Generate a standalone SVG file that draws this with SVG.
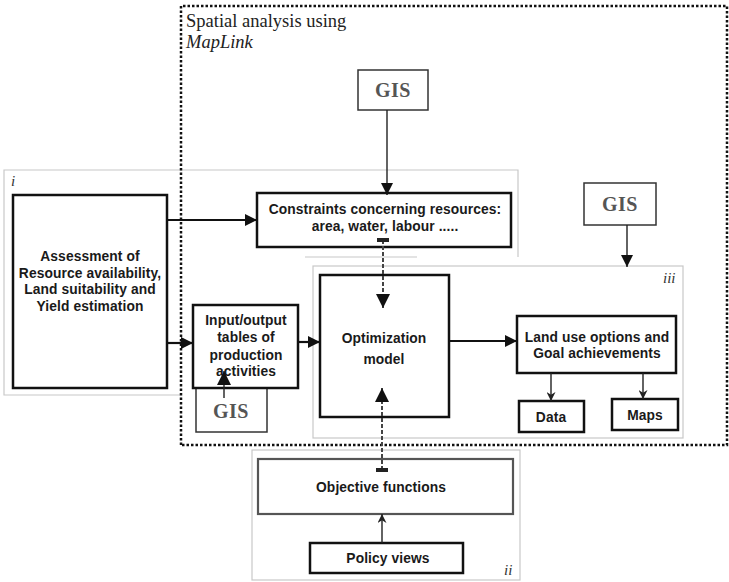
<svg xmlns="http://www.w3.org/2000/svg" width="729" height="582" viewBox="0 0 729 582">
  <defs>
    <marker id="head" viewBox="0 0 12 12" refX="12" refY="6" markerWidth="12" markerHeight="12" markerUnits="userSpaceOnUse" orient="auto">
      <path d="M0,0 L12,6 L0,12 Z" fill="#111"/>
    </marker>
    <marker id="bighead" viewBox="0 0 14 14" refX="14" refY="7" markerWidth="14" markerHeight="14" markerUnits="userSpaceOnUse" orient="auto">
      <path d="M0,0 L14,7 L0,14 Z" fill="#111"/>
    </marker>
    <marker id="smallhead" viewBox="0 0 10 10" refX="10" refY="5" markerWidth="9" markerHeight="9" markerUnits="userSpaceOnUse" orient="auto">
      <path d="M0,0 L10,5 L0,10 L3,5 Z" fill="#222"/>
    </marker>
    <marker id="bar" viewBox="0 0 4 12" refX="2" refY="6" markerWidth="4" markerHeight="12" markerUnits="userSpaceOnUse" orient="auto">
      <rect x="0" y="0" width="4" height="12" fill="#222"/>
    </marker>
  </defs>
  <style>
    .box { fill: #fff; stroke: #111; stroke-width: 2.5; }
    .gisbox { fill: #fff; stroke: #333; stroke-width: 1.5; }
    .region { fill: none; stroke: #c8c8c8; stroke-width: 1.2; }
    .label { font-family: "Liberation Sans", Arial, sans-serif; font-weight: bold; font-size: 13.8px; letter-spacing: 0.1px; fill: #1a1a1a; text-anchor: middle; }
    .gis { font-family: "Liberation Serif", "Times New Roman", serif; font-weight: bold; font-size: 20px; letter-spacing: 0.5px; fill: #555; text-anchor: middle; }
    .title { font-family: "Liberation Serif", "Times New Roman", serif; font-size: 18.5px; fill: #222; }
    .tag { font-family: "Liberation Serif", "Times New Roman", serif; font-style: italic; font-size: 15px; fill: #333; }
    .arrow { stroke: #111; stroke-width: 2.2; fill: none; }
    .thin { stroke: #222; stroke-width: 1.4; fill: none; }
    .dashed { stroke: #444; stroke-width: 2; stroke-dasharray: 4 2; fill: none; }
  </style>

  <rect width="729" height="582" fill="#fff"/>

  <!-- faint outlines of the three sub-systems -->
  <g id="region-i">
    <path class="region" d="M518 257 V170 H4 V395 H180"/>
    <path class="region" d="M305 257 H417"/>
    <text class="tag" x="11" y="186">i</text>
  </g>
  <g id="region-iii">
    <rect class="region" x="313" y="266" width="370" height="172"/>
    <text class="tag" x="663" y="283">iii</text>
  </g>
  <g id="region-ii">
    <rect class="region" x="252" y="450" width="268" height="130"/>
    <text class="tag" x="504" y="575">ii</text>
  </g>

  <!-- dotted frame for the spatial analysis part -->
  <g id="spatial-frame">
    <path d="M181 445 V6 H727 V445 Z" fill="none" stroke="#111" stroke-width="2.5" stroke-dasharray="2.5 2"/>
    <text class="title" x="186" y="27">Spatial analysis using</text>
    <text class="title" x="186" y="48" font-style="italic">MapLink</text>
  </g>

  <!-- nodes -->
  <g id="gis-top">
    <rect class="gisbox" x="358" y="70" width="70" height="40"/>
    <text class="gis" x="393" y="97">GIS</text>
  </g>
  <g id="gis-right">
    <rect class="gisbox" x="584" y="183" width="72" height="42"/>
    <text class="gis" x="620" y="211">GIS</text>
  </g>
  <g id="assessment">
    <rect class="box" x="13" y="195" width="154" height="193"/>
    <text class="label" x="90" y="261">Assessment of</text>
    <text class="label" x="90" y="278">Resource availability,</text>
    <text class="label" x="90" y="294">Land suitability and</text>
    <text class="label" x="90" y="311">Yield estimation</text>
  </g>
  <g id="constraints">
    <rect class="box" x="257" y="193" width="254" height="54"/>
    <text class="label" x="385" y="214" font-size="14.5">Constraints concerning resources:</text>
    <text class="label" x="385" y="231" font-size="14.5">area, water, labour .....</text>
  </g>
  <g id="gis-io">
    <rect class="gisbox" x="196" y="388" width="71" height="44"/>
    <text class="gis" x="231" y="418">GIS</text>
  </g>
  <g id="io-tables">
    <rect class="box" x="193" y="305" width="105" height="83"/>
    <text class="label" x="246" y="325">Input/output</text>
    <text class="label" x="246" y="342">tables of</text>
    <text class="label" x="246" y="360">production</text>
    <text class="label" x="246" y="376">activities</text>
  </g>
  <g id="optimization">
    <rect class="box" x="320" y="275" width="129" height="142"/>
    <text class="label" x="384" y="343">Optimization</text>
    <text class="label" x="384" y="364">model</text>
  </g>
  <g id="land-use">
    <rect class="box" x="517" y="316" width="159" height="57"/>
    <text class="label" x="597" y="342">Land use options and</text>
    <text class="label" x="597" y="358">Goal achievements</text>
  </g>
  <g id="data">
    <rect class="box" x="519" y="401" width="65" height="31"/>
    <text class="label" x="551" y="422">Data</text>
  </g>
  <g id="maps">
    <rect class="box" x="612" y="399" width="66" height="31"/>
    <text class="label" x="645" y="420">Maps</text>
  </g>
  <g id="objective">
    <rect x="258" y="459" width="255" height="55" fill="#fff" stroke="#555" stroke-width="2.2"/>
    <text class="label" x="381" y="492">Objective functions</text>
  </g>
  <g id="policy">
    <rect class="box" x="310" y="543" width="153" height="30"/>
    <text class="label" x="388" y="563">Policy views</text>
  </g>

  <!-- connectors -->
  <g id="connectors">
    <line class="thin" x1="387" y1="110" x2="387" y2="195" marker-end="url(#head)"/>
    <line class="thin" x1="627" y1="225" x2="627" y2="267" marker-end="url(#head)"/>
    <line class="arrow" x1="167" y1="220" x2="257" y2="220" marker-end="url(#head)"/>
    <line class="arrow" x1="167" y1="343" x2="193" y2="343" marker-end="url(#head)"/>
    <line class="arrow" x1="298" y1="342" x2="320" y2="342" marker-end="url(#head)"/>
    <line class="arrow" x1="449" y1="341" x2="517" y2="341" marker-end="url(#head)"/>
    <line class="thin" x1="224" y1="398" x2="224" y2="371" marker-end="url(#bighead)"/>
    <line class="dashed" x1="383" y1="240" x2="383" y2="308" marker-start="url(#bar)" marker-end="url(#bighead)"/>
    <line class="dashed" x1="382" y1="470" x2="382" y2="388" marker-start="url(#bar)" marker-end="url(#bighead)"/>
    <line class="thin" x1="551" y1="373" x2="551" y2="401" marker-end="url(#smallhead)"/>
    <line class="thin" x1="643" y1="373" x2="643" y2="399" marker-end="url(#smallhead)"/>
    <line class="thin" x1="382" y1="543" x2="382" y2="514" marker-end="url(#smallhead)"/>
  </g>
</svg>
